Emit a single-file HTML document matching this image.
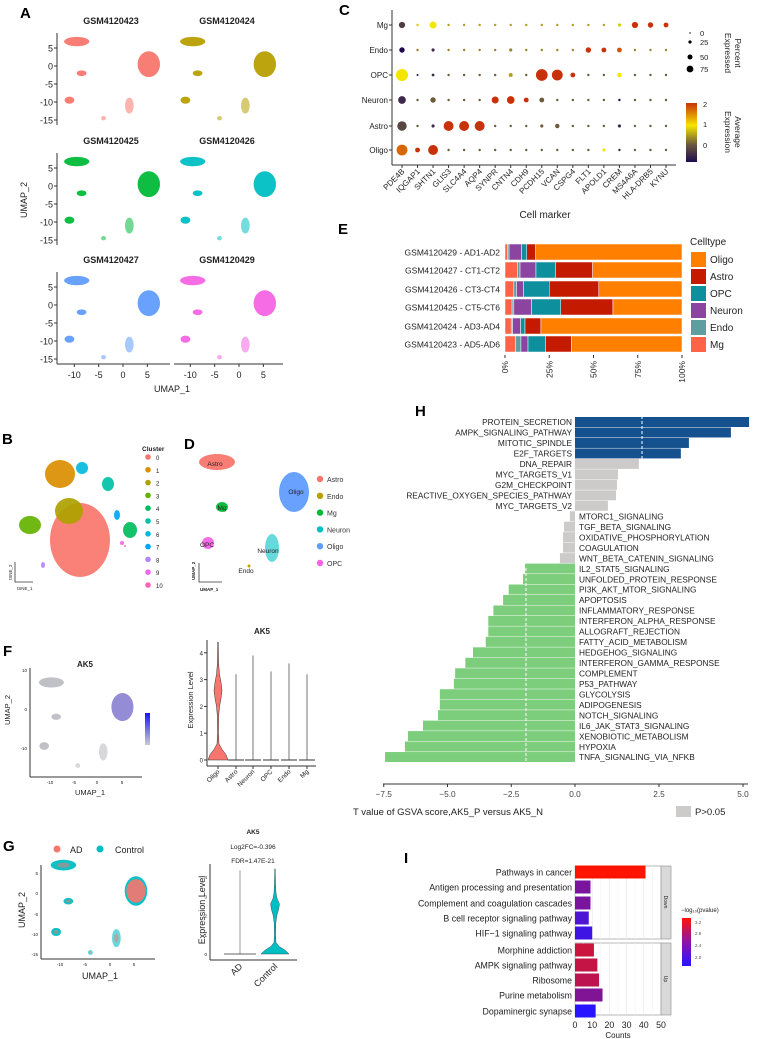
<!DOCTYPE html>
<html><head><meta charset="utf-8"><style>
body{margin:0;background:#fff;}
svg{display:block;font-family:"Liberation Sans",Arial,sans-serif;}
</style></head><body>
<svg id="fig" width="758" height="1039" viewBox="0 0 758 1039" xmlns="http://www.w3.org/2000/svg"></svg>
<script>
// ---------- DATA ----------
const sampleNames=["GSM4120423","GSM4120424","GSM4120425","GSM4120426","GSM4120427","GSM4120429"];
const sampleColors=["#F8766D","#B79F00","#00BA38","#00BFC4","#619CFF","#F564E3"];
const umapNames=["Astro","Oligo","Mg","OPC","Neuron","Endo"];
const umapCx=[-9.5,5.3,-8.5,-11,1.3,-4];
const umapCy=[6.8,0.5,-2,-9.5,-11,-14.5];
const umapRx=[2.6,2.3,1.0,1.0,0.9,0.5];
const umapRy=[1.3,3.6,0.8,1.0,2.2,0.6];

const dNames=["Astro","Oligo","Mg","OPC","Neuron","Endo"];
const dCx=[217,294,222,208,272,249];
const dCy=[462,492,507,543,548,566];
const dRx=[18,15,6,6,7,1.5];
const dRy=[8,20,5,6,14,1.5];

const genes=["PDE4B","IQGAP1","SHTN1","GLIS3","SLC4A4","AQP4","SYNPR","CNTN4","CDH9","PCDH15","VCAN","CSPG4","FLT1","APOLD1","CREM","MS4A6A","HLA-DRB5","KYNU"];
const dotRows=["Mg","Endo","OPC","Neuron","Astro","Oligo"];
const pctMg=[20,3,25,3,3,3,3,3,3,3,3,3,3,3,5,20,15,12];
const pctEndo=[15,3,5,3,3,3,3,5,3,3,3,3,15,12,12,3,3,3];
const pctOPC=[75,2,4,3,3,3,3,8,3,70,60,12,3,3,10,3,3,3];
const pctNeuron=[30,3,15,3,3,3,25,30,12,12,3,3,3,3,3,3,3,3];
const pctAstro=[45,3,5,50,50,50,3,3,3,5,10,3,3,3,5,3,3,3];
const pctOligo=[60,12,50,3,3,3,3,3,3,3,3,3,3,5,3,3,3,3];
const avgMg=[-0.3,0.8,1,0.5,0.5,0.5,0.5,0.5,0.5,0.5,0.5,0.5,0.5,0.5,0.8,2,2,2];
const avgEndo=[-0.8,0.3,-0.5,0.3,0.3,0.3,0.3,0.3,0.3,0.3,0.3,0.3,2,2,1.8,0.3,0.3,0.3];
const avgOPC=[1,-0.8,-0.5,0,0,0,0,0.5,0,2,2,2,0,0,1,0,0,0];
const avgNeuron=[-0.5,0,0,0,0,0,2,2,2,0,0,0,0,0,-0.8,0,0,0];
const avgAstro=[-0.2,0,-0.5,2,2,2,0,0,0,0,0,0,0,0,-0.5,0,0,0];
const avgOligo=[1.7,2,2,0,0,0,0,0,0,0,0,0,0,1,-0.5,0,0,0];

const propSamples=["GSM4120429 - AD1-AD2","GSM4120427 - CT1-CT2","GSM4120426 - CT3-CT4","GSM4120425 - CT5-CT6","GSM4120424 - AD3-AD4","GSM4120423 - AD5-AD6"];
const propTypes=["Mg","Endo","Neuron","OPC","Astro","Oligo"];
const propMg=[1.5,7,5,4,3.5,6];
const propEndo=[0.8,1.5,1.5,1,0.8,3];
const propNeuron=[7,9,4,10,4.5,4];
const propOPC=[3,11,14.5,16.5,2.5,10];
const propAstro=[5,21,28,29.5,9,14.5];

const hNames=["PROTEIN_SECRETION","AMPK_SIGNALING_PATHWAY","MITOTIC_SPINDLE","E2F_TARGETS","DNA_REPAIR","MYC_TARGETS_V1","G2M_CHECKPOINT","REACTIVE_OXYGEN_SPECIES_PATHWAY","MYC_TARGETS_V2","MTORC1_SIGNALING","TGF_BETA_SIGNALING","OXIDATIVE_PHOSPHORYLATION","COAGULATION","WNT_BETA_CATENIN_SIGNALING","IL2_STAT5_SIGNALING","UNFOLDED_PROTEIN_RESPONSE","PI3K_AKT_MTOR_SIGNALING","APOPTOSIS","INFLAMMATORY_RESPONSE","INTERFERON_ALPHA_RESPONSE","ALLOGRAFT_REJECTION","FATTY_ACID_METABOLISM","HEDGEHOG_SIGNALING","INTERFERON_GAMMA_RESPONSE","COMPLEMENT","P53_PATHWAY","GLYCOLYSIS","ADIPOGENESIS","NOTCH_SIGNALING","IL6_JAK_STAT3_SIGNALING","XENOBIOTIC_METABOLISM","HYPOXIA","TNFA_SIGNALING_VIA_NFKB"];
const hValues=[5.18,4.64,3.39,3.15,1.9,1.28,1.25,1.22,0.98,-0.2,-0.43,-0.47,-0.47,-0.59,-1.96,-2.04,-2.6,-2.82,-3.2,-3.4,-3.4,-3.5,-4.0,-4.3,-4.7,-4.75,-5.3,-5.3,-5.37,-5.96,-6.55,-6.67,-7.45];
const hTicks=[-7.5,-5.0,-2.5,0.0,2.5,5.0];

const iNames=["Pathways in cancer","Antigen processing and presentation","Complement and coagulation cascades","B cell receptor signaling pathway","HIF−1 signaling pathway","Morphine addiction","AMPK signaling pathway","Ribosome","Purine metabolism","Dopaminergic synapse"];
const iCounts=[41,9,9,8,10,11,13,14,16,12];
const iLogP=[3.25,2.35,2.35,2.05,1.95,2.9,2.85,2.8,2.4,1.8];
const iTicks=[0,10,20,30,40,50];

const vioCats=["Oligo","Astro","Neuron","OPC","Endo","Mg"];
const vioMax=[4.4,3.2,3.9,3.3,3.6,3.2];
const vioLevels=[0,0.2,0.4,0.6,1.0,1.6,2.0,2.3,2.6,2.9,3.2,3.6,4.4];
const vioOligoW=[10,8,4,1,0.5,0.6,1.5,3,4,3,1.5,0.6,0.3];
const gCats=["AD","Control"];
const gMax=[4.35,4.45];
const gControlW=[14,10,4,1,0.6,0.8,1.8,3.5,4.5,2,1,0.6,0.3];

const clusterIds=["0","1","2","3","4","5","6","7","8","9","10"];
const clusterColors=["#F8766D","#DB8E00","#AEA200","#64B200","#00BD5C","#00C1A7","#00BADE","#00A6FF","#B385FF","#EF67EB","#FF63B6"];
const tsneX=[80,60,69,30,130,108,82,117,43,122,125];
const tsneY=[540,474,511,525,530,484,468,515,565,543,546];
const tsneRx=[30,15,14,11,7,6,6,3,2,2,1];
const tsneRy=[37,14,13,9,8,7,6,5,3,2,1];

// ---------- HELPERS ----------
const NS="http://www.w3.org/2000/svg";
const svg=document.getElementById('fig');
function mk(tag,attrs,parent){const e=document.createElementNS(NS,tag);for(const k in attrs)e.setAttribute(k,attrs[k]);(parent||svg).appendChild(e);return e;}
function txt(s,x,y,size,attrs,parent){const a=Object.assign({x:x,y:y,'font-size':size,fill:'#222'},attrs||{});const t=mk('text',a,parent);t.textContent=s;return t;}
function grp(name){const g=mk('g',{});return g;}
function panelLabel(l,x,y){const t=txt(l,x,y,15,{'font-weight':'bold',fill:'#000'});}

// ---------- PANEL A ----------
panelLabel('A',20,18);
const gA=grp('panel-a-umap-facets');
const facetX0=[123,239], rowY0=[66,186,305], axs=4.87, ays=3.6;
function umapClusters(g,x0,y0,xs,ys,color,op){
  for(let i=0;i<umapCx.length;i++){
    const e=mk('ellipse',{cx:x0+umapCx[i]*xs,cy:y0-umapCy[i]*ys,rx:umapRx[i]*xs,ry:umapRy[i]*ys,fill:color,opacity:(i===4||i===5)?0.55:(op||0.95)},g);
    
    
  }
}
for(let s=0;s<6;s++){
  const r=Math.floor(s/2),c=s%2;
  const x0=facetX0[c],y0=rowY0[r];
  const t=txt(sampleNames[s],x0-12,y0-42,9,{'font-weight':'bold','text-anchor':'middle'},gA);
  
  umapClusters(gA,x0,y0,axs,ays,sampleColors[s]);
}
[0,1,2].forEach(r=>{
  const y0=rowY0[r];
  mk('line',{x1:57,y1:y0-33,x2:57,y2:y0+59,stroke:'#333','stroke-width':1},gA);
  [5,0,-5,-10,-15].forEach(v=>{txt(String(v),53,y0-v*ays+3.5,9,{'text-anchor':'end'},gA);mk('line',{x1:54,x2:57,y1:y0-v*ays,y2:y0-v*ays,stroke:'#333'},gA);});
});
mk('line',{x1:57,y1:364,x2:170,y2:364,stroke:'#333'},gA);
mk('line',{x1:174,y1:364,x2:283,y2:364,stroke:'#333'},gA);
facetX0.forEach(x0=>{[-10,-5,0,5].forEach(v=>{mk('line',{x1:x0+v*axs,x2:x0+v*axs,y1:364,y2:367,stroke:'#333'},gA);txt(String(v),x0+v*axs,378,9,{'text-anchor':'middle'},gA);});});
txt('UMAP_1',172,392,9,{'text-anchor':'middle'},gA);
txt('UMAP_2',0,0,9,{'text-anchor':'middle',transform:'translate(27,200) rotate(-90)'},gA);

// ---------- PANEL C ----------
panelLabel('C',339,15);
const gC=grp('panel-c-dotplot');
const cX0=402,cDx=15.53,cY=[25,50,75,100,126,150];
mk('line',{x1:392,y1:10,x2:392,y2:165,stroke:'#333'},gC);
mk('line',{x1:392,y1:165,x2:676,y2:165,stroke:'#333'},gC);
const rowsPct=[pctMg,pctEndo,pctOPC,pctNeuron,pctAstro,pctOligo];
const rowsAvg=[avgMg,avgEndo,avgOPC,avgNeuron,avgAstro,avgOligo];
function avgColor(v){
  const stops=[[-0.8,[30,10,80]],[0,[110,90,60]],[1,[245,230,0]],[2,[200,50,10]]];
  if(v<=stops[0][0])return 'rgb('+stops[0][1]+')';
  for(let i=1;i<stops.length;i++){if(v<=stops[i][0]){const a=stops[i-1],b=stops[i],t=(v-a[0])/(b[0]-a[0]);return 'rgb('+a[1].map((c,k)=>Math.round(c+(b[1][k]-c)*t)).join(',')+')';}}
  return 'rgb(200,50,10)';
}
dotRows.forEach((r,ri)=>{
  txt(r,388,cY[ri]+3,8,{'text-anchor':'end'},gC);
  mk('line',{x1:389,x2:392,y1:cY[ri],y2:cY[ri],stroke:'#333'},gC);
  genes.forEach((g,gi)=>{
    const d=mk('circle',{cx:cX0+gi*cDx,cy:cY[ri],r:Math.max(0.7,Math.sqrt(rowsPct[ri][gi])*0.7),fill:avgColor(rowsAvg[ri][gi])},gC);
    
    
  });
});
genes.forEach((g,gi)=>{const x=cX0+gi*cDx;mk('line',{x1:x,x2:x,y1:165,y2:168,stroke:'#333'},gC);txt(g,x+3,172,8,{'text-anchor':'end',transform:'rotate(-45 '+(x+3)+' 172)'},gC);});
txt('Cell marker',545,218,10,{'text-anchor':'middle'},gC);
txt('Percent',0,0,8.5,{'text-anchor':'middle',transform:'translate(735,53) rotate(90)'},gC);
txt('Expressed',0,0,8.5,{'text-anchor':'middle',transform:'translate(725,53) rotate(90)'},gC);
[[0,33,0.7],[25,42,1.6],[50,57,2.5],[75,69,3.4]].forEach(p=>{mk('circle',{cx:690,cy:p[1],r:p[2],fill:'#000'},gC);txt(String(p[0]),700,p[1]+3,7.5,{},gC);});
txt('Average',0,0,8.5,{'text-anchor':'middle',transform:'translate(735,132) rotate(90)'},gC);
txt('Expression',0,0,8.5,{'text-anchor':'middle',transform:'translate(725,132) rotate(90)'},gC);
const defs=mk('defs',{});
const lg=mk('linearGradient',{id:'cgrad',x1:0,y1:1,x2:0,y2:0},defs);
[[0,'#1e0a50'],[0.3,'#6e5a3c'],[0.62,'#f5e600'],[1,'#c83208']].forEach(s=>mk('stop',{offset:s[0],'stop-color':s[1]},lg));
mk('rect',{x:686,y:103,width:11,height:59,fill:'url(#cgrad)'},gC);
[[2,104],[1,124],[0,145]].forEach(p=>txt(String(p[0]),703,p[1]+3,7.5,{},gC));

// ---------- PANEL E ----------
panelLabel('E',338,234);
const gE=grp('panel-e-celltype-proportion');
const eX0=505,eW=177,eY=[252,270,289,307,326,344];
const propCols={Mg:'#FF6347',Endo:'#5F9EA0',Neuron:'#8B44A0',OPC:'#0E8F9E',Astro:'#C41A00',Oligo:'#FF7F00'};
const propArr=[propMg,propEndo,propNeuron,propOPC,propAstro];
propSamples.forEach((s,si)=>{
  txt(s,500,eY[si]+3.5,8.5,{'text-anchor':'end'},gE);
  let acc=0;
  propTypes.forEach((t,ti)=>{
    const v=ti<5?propArr[ti][si]:100-acc;
    const r=mk('rect',{x:eX0+acc/100*eW,y:eY[si]-8,width:v/100*eW,height:16,fill:propCols[t],stroke:'#fff','stroke-width':0.5},gE);
    
    
    acc+=v;
  });
});
['0%','25%','50%','75%','100%'].forEach((l,i)=>{const x=eX0+i*0.25*eW;mk('line',{x1:x,x2:x,y1:355,y2:358,stroke:'#333'},gE);txt(l,0,0,8.5,{'text-anchor':'end',transform:'translate('+(x+3)+',361) rotate(-90)'},gE);});
txt('Celltype',690,245,10,{},gE);
['Oligo','Astro','OPC','Neuron','Endo','Mg'].forEach((t,i)=>{const y=259+i*17;const r=mk('rect',{x:691,y:y-7,width:15,height:15,fill:propCols[t]},gE);txt(t,710,y+4,10,{},gE);});

// ---------- PANEL H ----------
panelLabel('H',415,416);
const gH=grp('panel-h-gsva');
function xH(v){return v>=0?575+v*33.6:575+v*25.5;}
const hY0=422,hDy=10.47;
hNames.forEach((n,i)=>{
  const v=hValues[i],y=hY0+i*hDy;
  const col=v>=2?'#15508F':(v<=-1.9?'#7CCD7C':'#CDCACA');
  const r=mk('rect',{x:Math.min(xH(v),575),y:y-5,width:Math.abs(xH(v)-575),height:10,fill:col},gH);
  
  
  if(v>=0)txt(n,572,y+3.2,8.3,{'text-anchor':'end'},gH);else txt(n,579,y+3.2,8.3,{},gH);
});
mk('line',{x1:642,x2:642,y1:416,y2:460,stroke:'#fff','stroke-dasharray':'3,2'},gH);
mk('line',{x1:526,x2:526,y1:568,y2:783,stroke:'#fff','stroke-dasharray':'3,2'},gH);
mk('line',{x1:383,x2:748,y1:784,y2:784,stroke:'#333'},gH);
hTicks.forEach(t=>{mk('line',{x1:xH(t),x2:xH(t),y1:784,y2:787,stroke:'#333'},gH);txt(t.toFixed(1).replace('-','−'),xH(t),797,8.3,{'text-anchor':'middle',fill:'#444'},gH);});
txt('T value of GSVA score,AK5_P versus AK5_N',448,815,9.5,{'text-anchor':'middle'},gH);
mk('rect',{x:676,y:806,width:15,height:11,fill:'#CDCACA'},gH);
txt('P>0.05',695,815,9.5,{},gH);

// ---------- PANEL I ----------
panelLabel('I',404,863);
const gI=grp('panel-i-kegg');
const iX0=575,iScale=1.72,iY=[872,887,903,918,933,950,965,980,995,1011];
[[866,939],[943,1015]].forEach(f=>{
  mk('rect',{x:575,y:f[0],width:86,height:f[1]-f[0],fill:'#fff',stroke:'#999','stroke-width':0.7},gI);
  for(let v=0;v<=50;v+=5){mk('line',{x1:iX0+v*iScale,x2:iX0+v*iScale,y1:f[0],y2:f[1],stroke:v%10?'#f2f2f2':'#e4e4e4','stroke-width':0.6},gI);}
  mk('rect',{x:661,y:f[0],width:10,height:f[1]-f[0],fill:'#d9d9d9',stroke:'#999','stroke-width':0.7},gI);
});
txt('Down',0,0,5,{'text-anchor':'middle',transform:'translate(664,902) rotate(90)'},gI);
txt('Up',0,0,5,{'text-anchor':'middle',transform:'translate(664,979) rotate(90)'},gI);
function pCol(v){const t=Math.max(0,Math.min(1,(v-1.8)/1.45));return 'rgb('+Math.round(40+215*t)+',20,'+Math.round(255*(1-t))+')';}
iNames.forEach((n,i)=>{
  const r=mk('rect',{x:iX0,y:iY[i]-6.5,width:iCounts[i]*iScale,height:13,fill:pCol(iLogP[i])},gI);
  
  
  txt(n,572,iY[i]+3.5,8.8,{'text-anchor':'end'},gI);
});
iTicks.forEach(t=>{txt(String(t),iX0+t*iScale,1028,8.8,{'text-anchor':'middle'},gI);});
txt('Counts',618,1038,8,{'text-anchor':'middle'},gI);
txt('−log₁₀(pvalue)',681,912,6,{},gI);
const lg2=mk('linearGradient',{id:'pgrad',x1:0,y1:1,x2:0,y2:0},defs);
[[0,'#2814ff'],[0.5,'#8c14aa'],[1,'#ff1400']].forEach(s=>mk('stop',{offset:s[0],'stop-color':s[1]},lg2));
mk('rect',{x:682,y:918,width:9,height:48,fill:'url(#pgrad)'},gI);
[['3.2',922],['2.8',933],['2.4',945],['2.0',957]].forEach(p=>txt(p[0],695,p[1]+2,4.5,{fill:'#555'},gI));

// ---------- PANEL B ----------
panelLabel('B',2,444);
const gB=grp('panel-b-tsne');
clusterIds.forEach((c,i)=>{
  const e=mk('ellipse',{cx:tsneX[i],cy:tsneY[i],rx:tsneRx[i],ry:tsneRy[i],fill:clusterColors[i],opacity:0.92},gB);
  
  
  mk('circle',{cx:148,cy:457+i*12.8,r:2.8,fill:clusterColors[i]},gB);
  txt(c,156,460+i*12.8,6,{},gB);
});
txt('Cluster',142,451,6.5,{'font-weight':'bold'},gB);
mk('path',{d:'M15,562 L15,582 L33,582',stroke:'#333',fill:'none','stroke-width':0.8},gB);
txt('tSNE_2',0,0,4.5,{transform:'translate(12,580) rotate(-90)'},gB);
txt('tSNE_1',17,590,4.5,{},gB);

// ---------- PANEL D ----------
panelLabel('D',184,449);
const gD=grp('panel-d-celltype-umap');
const dCols={Astro:'#F8766D',Endo:'#B79F00',Mg:'#00BA38',Neuron:'#00BFC4',Oligo:'#619CFF',OPC:'#F564E3'};
dNames.forEach((n,i)=>{
  const e=mk('ellipse',{cx:dCx[i],cy:dCy[i],rx:dRx[i],ry:dRy[i],fill:dCols[n],opacity:(n==='Neuron'?0.6:0.95)},gD);
  
  
});
[['Astro',215,466],['Oligo',296,494],['Mg',222,510],['OPC',207,547],['Neuron',268,553],['Endo',246,573]].forEach(p=>txt(p[0],p[1],p[2],6.5,{'text-anchor':'middle',fill:'#222'},gD));
['Astro','Endo','Mg','Neuron','Oligo','OPC'].forEach((n,i)=>{mk('circle',{cx:320,cy:479+i*16.8,r:3.2,fill:dCols[n]},gD);txt(n,327,482+i*16.8,7,{fill:'#333'},gD);});
mk('path',{d:'M199,563 L199,582 L222,582',stroke:'#333',fill:'none','stroke-width':0.8},gD);
txt('UMAP_2',0,0,4.5,{transform:'translate(195,580) rotate(-90)','font-weight':'bold'},gD);
txt('UMAP_1',200,591,4.5,{'font-weight':'bold'},gD);

// ---------- PANEL F ----------
panelLabel('F',3,656);
const gF=grp('panel-f-ak5');
txt('AK5',85,667,8,{'text-anchor':'middle','font-weight':'bold'},gF);
umapNames.forEach((n,i)=>{
  const x0=97,y0=709,xs=4.8,ys=3.9;
  const e=mk('ellipse',{cx:x0+umapCx[i]*xs,cy:y0-umapCy[i]*ys,rx:umapRx[i]*xs,ry:umapRy[i]*ys,fill:i===1?'#8f86d4':'#bdbdc4',opacity:(i===4||i===5)?0.6:0.95},gF);
  
  
});
mk('line',{x1:30,x2:30,y1:668,y2:777,stroke:'#333'},gF);mk('line',{x1:30,x2:142,y1:777,y2:777,stroke:'#333'},gF);
[[10,670],[0,709],[-10,748]].forEach(p=>txt(String(p[0]),27,p[1]+2,4.5,{'text-anchor':'end'},gF));
[[-10,50],[-5,74],[0,97],[5,122]].forEach(p=>txt(String(p[0]),p[1],784,4.5,{'text-anchor':'middle'},gF));
txt('UMAP_1',90,795,7.5,{'text-anchor':'middle'},gF);
txt('UMAP_2',0,0,7.5,{'text-anchor':'middle',transform:'translate(10,710) rotate(-90)'},gF);
const lg3=mk('linearGradient',{id:'fgrad',x1:0,y1:1,x2:0,y2:0},defs);
[[0,'#cccccc'],[1,'#1a14ff']].forEach(s=>mk('stop',{offset:s[0],'stop-color':s[1]},lg3));
mk('rect',{x:145,y:713,width:5,height:32,fill:'url(#fgrad)'},gF);

// violin F
const gFV=grp('panel-f-violin');
txt('AK5',262,634,8,{'text-anchor':'middle','font-weight':'bold'},gFV);
const fvY0=760,fvS=26.8,fvX=[218,236,253,271,289,307];
mk('line',{x1:207,x2:207,y1:640,y2:766,stroke:'#333'},gFV);mk('line',{x1:207,x2:316,y1:766,y2:766,stroke:'#333'},gFV);
[0,1,2,3,4].forEach(v=>{txt(String(v),203,fvY0-v*fvS+2.5,6,{'text-anchor':'end'},gFV);mk('line',{x1:204,x2:207,y1:fvY0-v*fvS,y2:fvY0-v*fvS,stroke:'#333'},gFV);});
txt('Expression Level',0,0,7.5,{'text-anchor':'middle',transform:'translate(193,700) rotate(-90)'},gFV);
function violinPath(cx,y0,sc,levels,widths,mx){
  let L=[],R=[];
  for(let i=0;i<levels.length;i++){if(levels[i]>mx)break;const y=y0-levels[i]*sc;R.push((cx+widths[i])+','+y);L.unshift((cx-widths[i])+','+y);}
  R.push(cx+','+(y0-mx*sc));
  return 'M'+R.join(' L')+' L'+L.join(' L')+' Z';
}
vioCats.forEach((c,i)=>{
  const x=fvX[i];
  if(i===0){const p=mk('path',{d:violinPath(x,fvY0,fvS,vioLevels,vioOligoW,vioMax[i]),fill:'#F8766D',stroke:'#333','stroke-width':0.5},gFV);}
  else{const l=mk('line',{x1:x,x2:x,y1:fvY0,y2:fvY0-vioMax[i]*fvS,stroke:'#555','stroke-width':0.8},gFV);mk('line',{x1:x-8,x2:x+8,y1:fvY0,y2:fvY0,stroke:'#333','stroke-width':1},gFV);}
  mk('line',{x1:x,x2:x,y1:766,y2:769,stroke:'#333'},gFV);
  txt(c,x+2,772,6.5,{'text-anchor':'end',transform:'rotate(-45 '+(x+2)+' 772)'},gFV);
});

// ---------- PANEL G ----------
panelLabel('G',3,851);
const gG=grp('panel-g-ad-control');
mk('circle',{cx:57,cy:849,r:3.5,fill:'#F8766D'},gG);txt('AD',70,853,9,{},gG);
mk('circle',{cx:100,cy:849,r:3.5,fill:'#00BFC4'},gG);txt('Control',115,853,9,{},gG);
umapNames.forEach((n,i)=>{
  const x0=110,y0=893,xs=4.9,ys=4.1;
  const a=mk('ellipse',{cx:x0+umapCx[i]*xs,cy:y0-umapCy[i]*ys,rx:umapRx[i]*xs,ry:umapRy[i]*ys,fill:'#00BFC4',opacity:(i===4||i===5)?0.6:0.95},gG);
  
  const b=mk('ellipse',{cx:x0+umapCx[i]*xs,cy:y0-umapCy[i]*ys,rx:umapRx[i]*xs*(i===1?0.85:0.5),ry:umapRy[i]*ys*(i===1?0.8:0.5),fill:'#F8766D',opacity:i===1?0.9:0.5},gG);
  
});
mk('line',{x1:41,x2:41,y1:865,y2:959,stroke:'#333'},gG);mk('line',{x1:41,x2:155,y1:959,y2:959,stroke:'#333'},gG);
[[5,873],[0,893],[-5,914],[-10,934],[-15,954]].forEach(p=>txt(String(p[0]),38,p[1]+2,4.5,{'text-anchor':'end'},gG));
[[-10,60],[-5,85],[0,110],[5,134]].forEach(p=>txt(String(p[0]),p[1],966,4.5,{'text-anchor':'middle'},gG));
txt('UMAP_1',100,979,9,{'text-anchor':'middle'},gG);
txt('UMAP_2',0,0,9,{'text-anchor':'middle',transform:'translate(25,910) rotate(-90)'},gG);

const gGV=grp('panel-g-violin');
txt('AK5',253,834,6.5,{'text-anchor':'middle','font-weight':'bold'},gGV);
txt('Log2FC=-0.396',253,849,6.5,{'text-anchor':'middle'},gGV);
txt('FDR=1.47E-21',253,863,6.5,{'text-anchor':'middle'},gGV);
const gvY0=954,gvS=19.2,gvX=[240,275];
mk('line',{x1:210,x2:210,y1:864,y2:960,stroke:'#333'},gGV);mk('line',{x1:210,x2:297,y1:960,y2:960,stroke:'#333'},gGV);
[0,1,2,3,4].forEach(v=>txt(String(v),207,gvY0-v*gvS+2,4.5,{'text-anchor':'end'},gGV));
txt('Expression Level',0,0,9,{'text-anchor':'middle',transform:'translate(205,910) rotate(-90)'},gGV);
mk('line',{x1:gvX[0],x2:gvX[0],y1:gvY0,y2:gvY0-gMax[0]*gvS,stroke:'#555','stroke-width':0.6},gGV);
mk('line',{x1:gvX[0]-16,x2:gvX[0]+16,y1:gvY0,y2:gvY0,stroke:'#333','stroke-width':0.8},gGV);
const pv=mk('path',{d:violinPath(gvX[1],gvY0,gvS,vioLevels,gControlW,gMax[1]),fill:'#00BFC4',stroke:'#333','stroke-width':0.4},gGV);

gCats.forEach((c,i)=>{txt(c,gvX[i]+3,967,9,{'text-anchor':'end',transform:'rotate(-45 '+(gvX[i]+3)+' 967)'},gGV);});
</script>
</body></html>
